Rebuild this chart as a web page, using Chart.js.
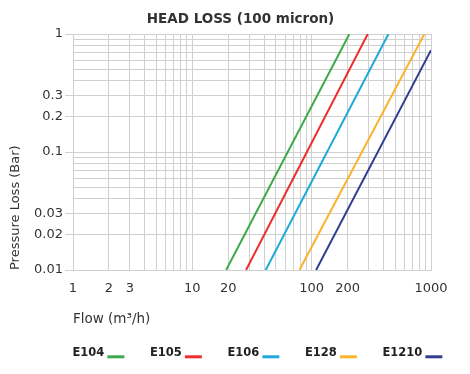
<!DOCTYPE html>
<html><head><meta charset="utf-8">
<script src="https://cdn.jsdelivr.net/npm/chart.js@4"></script>
<style>html,body{margin:0;padding:0;background:#fff;}</style>
</head><body>
<canvas id="c" width="470" height="374"></canvas>
<script>
// ---- data ----
const seriesNames = ['E104', 'E105', 'E106', 'E128', 'E1210'];
const seriesColors = ['#3daa4a', '#ee2d2d', '#1eaad8', '#fdb22b', '#2f3f8e'];
const e104Flow = [19.2, 207];  const e104Loss = [0.01, 1];
const e105Flow = [28.2, 295];  const e105Loss = [0.01, 1];
const e106Flow = [41.2, 440];  const e106Loss = [0.01, 1];
const e128Flow = [79, 880];    const e128Loss = [0.01, 1];
const e1210Flow = [109, 1000]; const e1210Loss = [0.01, 0.73];
const xTickLabels = [1, 2, 3, 10, 20, 100, 200, 1000];
const yTickLabels = [0.01, 0.02, 0.03, 0.1, 0.2, 0.3, 1];

const flows = [e104Flow, e105Flow, e106Flow, e128Flow, e1210Flow];
const losses = [e104Loss, e105Loss, e106Loss, e128Loss, e1210Loss];

const FONT = 'DejaVu Sans';
const GRID = '#d0d0d0';
const TEXT = '#333333';

function logGrid(lo, hi) {
  const out = [];
  for (let d = lo; d < hi * 0.999; d *= 10) {
    for (let k = 1; k <= 9; k++) out.push(Math.round(k * d * 1e6) / 1e6);
  }
  out.push(hi);
  return out;
}
const has = (arr, v) => arr.some(a => Math.abs(a - v) < 1e-9);

const datasets = seriesNames.map((name, i) => ({
  label: name,
  data: flows[i].map((x, j) => ({x: x, y: losses[i][j]})),
  showLine: true,
  borderColor: seriesColors[i],
  backgroundColor: seriesColors[i],
  borderWidth: 2,
  pointRadius: 0,
  fill: false
}));

const extras = {
  id: 'extras',
  afterDraw(chart) {
    const ctx = chart.ctx;
    ctx.save();
    // title
    ctx.fillStyle = '#333';
    ctx.font = 'bold 13.5px "' + FONT + '"';
    ctx.textAlign = 'center';
    ctx.textBaseline = 'alphabetic';
    ctx.fillText('HEAD LOSS (100 micron)', 240.5, 22.5);
    // legend: label then a line sample
    ctx.font = 'bold 11.5px "' + FONT + '"';
    ctx.textAlign = 'left';
    chart.data.datasets.forEach((ds, i) => {
      const x0 = 72.5 + i * 77.5;
      ctx.fillStyle = '#222';
      ctx.fillText(ds.label, x0, 356.3);
      const w = ctx.measureText(ds.label).width;
      ctx.strokeStyle = ds.borderColor;
      ctx.lineWidth = 3;
      ctx.beginPath();
      ctx.moveTo(x0 + w + 3, 356.8);
      ctx.lineTo(x0 + w + 20, 356.8);
      ctx.stroke();
    });
    ctx.restore();
  }
};

new Chart(document.getElementById('c'), {
  type: 'scatter',
  data: {datasets: datasets},
  plugins: [extras],
  options: {
    responsive: false,
    animation: false,
    devicePixelRatio: 1,
    layout: {padding: {top: 34, right: 39, bottom: 0, left: 0}},
    plugins: {legend: {display: false}, title: {display: false}, tooltip: {enabled: false}},
    scales: {
      x: {
        type: 'logarithmic', min: 1, max: 1000,
        afterBuildTicks(s) { s.ticks = logGrid(1, 1000).map(v => ({value: v})); },
        afterFit(s) { s.height = 104; },
        ticks: {
          autoSkip: false, maxRotation: 0, minRotation: 0, padding: 5, color: TEXT,
          font: {family: FONT, size: 13},
          callback: (v) => has(xTickLabels, v) ? String(v) : ''
        },
        grid: {color: GRID, tickLength: 6, tickColor: 'rgba(0,0,0,0)'},
        border: {color: GRID},
        title: {display: true, text: 'Flow (m³/h)', align: 'start', color: TEXT,
                font: {family: FONT, size: 13.5}, padding: {top: 0, bottom: 46}}
      },
      y: {
        type: 'logarithmic', min: 0.01, max: 1,
        afterBuildTicks(s) { s.ticks = logGrid(0.01, 1).map(v => ({value: v})); },
        afterFit(s) { s.width = 73; },
        ticks: {
          autoSkip: false, padding: 2, color: TEXT,
          font: {family: FONT, size: 13},
          callback: (v) => has(yTickLabels, v) ? String(v) : ''
        },
        grid: {color: GRID, tickLength: 8,
               tickColor: (c) => (c.tick && has(yTickLabels, c.tick.value)) ? GRID : 'rgba(0,0,0,0)'},
        border: {color: GRID},
        title: {display: true, text: 'Pressure Loss (Bar)', align: 'start', color: TEXT,
                font: {family: FONT, size: 13}, padding: {top: 8, bottom: 0}}
      }
    }
  }
});
</script>
</body></html>
